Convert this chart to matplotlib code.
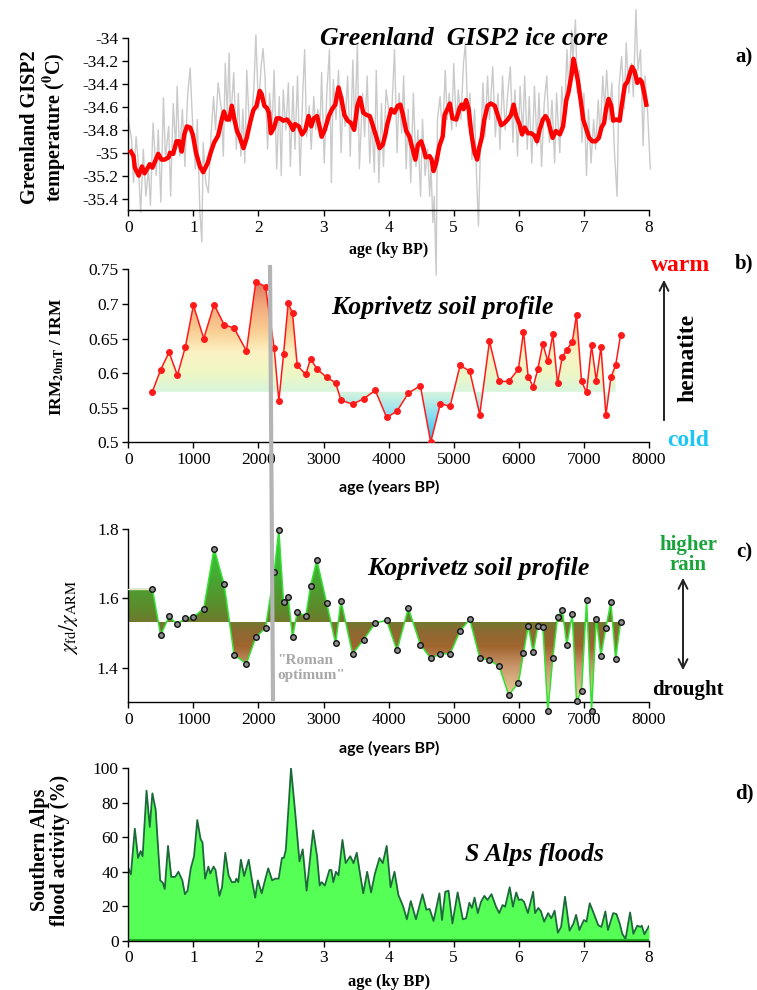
import numpy as np
import matplotlib
matplotlib.use('Agg')
import matplotlib.pyplot as plt
from matplotlib.colors import LinearSegmentedColormap, Normalize
from matplotlib.path import Path
from matplotlib.patches import PathPatch, FancyArrowPatch
from matplotlib.lines import Line2D

plt.rcParams['font.family'] = ['Liberation Serif', 'DejaVu Serif']
plt.rcParams['mathtext.fontset'] = 'stix'
plt.rcParams['axes.unicode_minus'] = False

W, H = 757, 990

# ---------------- a) GISP2 ----------------
gisp_raw_age = [0.00, 0.05, 0.08, 0.12, 0.15, 0.19, 0.23, 0.27, 0.31, 0.34, 0.38, 0.43, 0.46, 0.50,
                0.54, 0.57, 0.62, 0.65, 0.69, 0.73, 0.75, 0.79, 0.83, 0.87, 0.91, 0.95, 0.99, 1.03,
                1.06, 1.10, 1.13, 1.15, 1.19, 1.23, 1.27, 1.31, 1.34, 1.38, 1.43, 1.46, 1.49, 1.52,
                1.55, 1.57, 1.62, 1.66, 1.69, 1.73, 1.76, 1.79, 1.82, 1.86, 1.90, 1.93, 1.96, 2.00,
                2.04, 2.07, 2.10, 2.14, 2.17, 2.21, 2.24, 2.28, 2.32, 2.35, 2.38, 2.42, 2.46, 2.49,
                2.53, 2.56, 2.60, 2.64, 2.68, 2.71, 2.74, 2.78, 2.81, 2.85, 2.88, 2.91, 2.95, 2.97,
                3.01, 3.05, 3.09, 3.12, 3.15, 3.19, 3.23, 3.27, 3.30, 3.33, 3.37, 3.41, 3.45, 3.48,
                3.52, 3.55, 3.60, 3.63, 3.67, 3.71, 3.74, 3.78, 3.81, 3.85, 3.89, 3.92, 3.96, 4.00,
                4.05, 4.09, 4.13, 4.16, 4.20, 4.23, 4.27, 4.30, 4.34, 4.38, 4.42, 4.45, 4.49, 4.52,
                4.56, 4.60, 4.63, 4.65, 4.68, 4.70, 4.73, 4.75, 4.79, 4.83, 4.87, 4.90, 4.93, 4.97,
                5.00, 5.04, 5.07, 5.11, 5.15, 5.18, 5.22, 5.25, 5.28, 5.32, 5.35, 5.38, 5.41, 5.45,
                5.48, 5.52, 5.55, 5.60, 5.64, 5.68, 5.71, 5.75, 5.79, 5.83, 5.87, 5.91, 5.94, 5.98,
                6.02, 6.06, 6.09, 6.13, 6.16, 6.20, 6.24, 6.28, 6.31, 6.35, 6.39, 6.43, 6.47, 6.51,
                6.55, 6.58, 6.63, 6.66, 6.70, 6.74, 6.77, 6.81, 6.83, 6.87, 6.90, 6.93, 6.97, 7.00,
                7.04, 7.07, 7.11, 7.15, 7.18, 7.22, 7.25, 7.29, 7.32, 7.35, 7.39, 7.43, 7.47, 7.51,
                7.54, 7.58, 7.62, 7.65, 7.69, 7.73, 7.76, 7.80, 7.83, 7.87, 7.91, 7.94, 7.98, 8.02]
gisp_raw_temp = [-34.71, -34.88, -35.26, -34.86, -35.06, -35.52, -34.97, -35.38, -35.14, -35.46, -34.74, -35.20, -34.80, -35.43,
                 -34.52, -35.06, -34.77, -35.38, -34.57, -34.97, -34.42, -35.03, -34.62, -35.12, -34.51, -34.26, -34.77, -35.14,
                 -34.71, -35.52, -35.78, -34.91, -35.26, -35.35, -34.86, -34.51, -34.80, -34.39, -34.62, -35.03, -34.22, -34.65,
                 -34.13, -34.74, -34.30, -34.97, -34.48, -35.03, -34.62, -35.09, -34.28, -34.77, -34.68, -34.42, -33.97, -34.62,
                 -34.25, -34.09, -34.33, -34.97, -34.48, -34.77, -34.28, -35.14, -34.51, -35.20, -34.45, -34.80, -34.39, -35.12,
                 -34.42, -34.97, -34.33, -35.20, -34.48, -34.10, -34.86, -34.59, -34.97, -34.51, -34.80, -34.62, -34.71, -34.30,
                 -35.09, -34.48, -34.10, -35.26, -34.36, -34.71, -34.28, -35.00, -34.51, -34.77, -34.33, -35.03, -34.19, -34.80,
                 -34.04, -35.14, -34.48, -34.86, -34.33, -35.09, -34.68, -35.17, -34.28, -35.26, -34.57, -35.12, -34.45, -34.62,
                 -34.62, -34.10, -35.00, -34.48, -34.83, -34.33, -35.14, -34.62, -35.26, -34.48, -35.12, -34.80, -35.38, -34.71,
                 -35.20, -34.97, -35.38, -35.12, -35.61, -35.38, -36.07, -34.71, -34.51, -34.86, -34.28, -34.71, -34.48, -34.80,
                 -34.22, -34.77, -34.45, -34.71, -34.22, -34.04, -34.77, -34.48, -35.06, -34.62, -35.20, -35.64, -34.97, -34.39,
                 -34.86, -34.33, -34.71, -34.25, -34.86, -34.48, -34.97, -34.33, -34.80, -34.48, -34.25, -34.91, -34.45, -35.03,
                 -34.42, -34.86, -34.33, -34.97, -34.51, -35.09, -34.42, -34.94, -34.48, -35.12, -34.57, -34.33, -34.91, -34.54,
                 -35.09, -34.48, -35.00, -34.42, -34.71, -34.10, -34.48, -33.93, -34.19, -33.84, -34.48, -34.28, -34.91, -34.48,
                 -35.20, -34.62, -35.09, -34.71, -34.97, -34.54, -34.86, -34.33, -34.62, -34.28, -34.71, -34.39, -35.00, -35.38,
                 -34.42, -34.16, -34.62, -34.04, -34.48, -34.22, -34.51, -33.75, -34.28, -34.10, -34.94, -34.33, -34.65, -35.14]

gisp_smooth_age = [0.04, 0.08, 0.10, 0.16, 0.21, 0.25, 0.28, 0.33, 0.37, 0.40, 0.46, 0.51, 0.56, 0.62,
                   0.64, 0.69, 0.74, 0.78, 0.82, 0.86, 0.90, 0.95, 0.99, 1.04, 1.10, 1.15, 1.22, 1.27,
                   1.32, 1.38, 1.44, 1.47, 1.51, 1.55, 1.59, 1.63, 1.67, 1.71, 1.77, 1.82, 1.87, 1.92,
                   1.97, 2.02, 2.05, 2.09, 2.13, 2.16, 2.19, 2.24, 2.28, 2.33, 2.38, 2.44, 2.49, 2.53,
                   2.56, 2.62, 2.67, 2.72, 2.77, 2.81, 2.85, 2.90, 2.93, 2.97, 3.02, 3.08, 3.13, 3.18,
                   3.23, 3.27, 3.32, 3.37, 3.42, 3.47, 3.52, 3.56, 3.61, 3.66, 3.71, 3.75, 3.81, 3.86,
                   3.91, 3.95, 3.98, 4.04, 4.09, 4.14, 4.18, 4.22, 4.27, 4.32, 4.37, 4.41, 4.45, 4.50,
                   4.54, 4.57, 4.63, 4.66, 4.69, 4.73, 4.78, 4.83, 4.86, 4.91, 4.94, 4.98, 5.04, 5.09,
                   5.12, 5.15, 5.19, 5.23, 5.27, 5.32, 5.36, 5.39, 5.43, 5.47, 5.52, 5.57, 5.63, 5.68,
                   5.73, 5.78, 5.83, 5.88, 5.92, 5.96, 6.01, 6.05, 6.09, 6.14, 6.19, 6.24, 6.28, 6.32,
                   6.37, 6.41, 6.45, 6.49, 6.52, 6.57, 6.63, 6.68, 6.73, 6.76, 6.81, 6.84, 6.87, 6.91,
                   6.95, 6.99, 7.04, 7.08, 7.13, 7.18, 7.23, 7.27, 7.31, 7.34, 7.38, 7.42, 7.45, 7.50,
                   7.55, 7.58, 7.63, 7.67, 7.71, 7.74, 7.78, 7.82, 7.86, 7.89, 7.92, 7.96]
gisp_smooth_temp = [-34.99, -35.03, -35.13, -35.20, -35.12, -35.18, -35.15, -35.10, -35.13, -35.09, -35.01, -35.06, -35.06, -35.04,
                    -35.00, -35.01, -34.90, -34.90, -34.99, -34.84, -34.77, -34.78, -34.84, -35.00, -35.12, -35.17, -35.09, -34.99,
                    -34.91, -34.85, -34.70, -34.64, -34.71, -34.71, -34.59, -34.71, -34.81, -34.86, -34.96, -34.87, -34.74, -34.63,
                    -34.59, -34.46, -34.49, -34.59, -34.61, -34.65, -34.83, -34.78, -34.70, -34.70, -34.72, -34.71, -34.75, -34.80,
                    -34.75, -34.77, -34.84, -34.80, -34.68, -34.77, -34.70, -34.68, -34.75, -34.86, -34.80, -34.68, -34.62, -34.58,
                    -34.43, -34.52, -34.67, -34.72, -34.74, -34.80, -34.59, -34.52, -34.65, -34.67, -34.68, -34.75, -34.86, -34.96,
                    -34.93, -34.84, -34.75, -34.62, -34.65, -34.59, -34.58, -34.67, -34.81, -34.86, -34.97, -35.06, -34.93, -34.90,
                    -34.97, -35.04, -35.03, -35.06, -35.16, -35.09, -34.94, -34.86, -34.67, -34.61, -34.57, -34.70, -34.71, -34.61,
                    -34.58, -34.62, -34.54, -34.62, -34.83, -35.00, -35.06, -34.96, -34.87, -34.71, -34.59, -34.57, -34.59, -34.68,
                    -34.76, -34.74, -34.71, -34.67, -34.58, -34.68, -34.75, -34.84, -34.78, -34.83, -34.83, -34.85, -34.90, -34.80,
                    -34.71, -34.68, -34.72, -34.81, -34.87, -34.81, -34.84, -34.77, -34.54, -34.48, -34.32, -34.18, -34.26, -34.38,
                    -34.54, -34.71, -34.80, -34.87, -34.90, -34.90, -34.87, -34.78, -34.74, -34.62, -34.53, -34.59, -34.72, -34.71,
                    -34.72, -34.59, -34.41, -34.38, -34.30, -34.25, -34.29, -34.39, -34.36, -34.38, -34.46, -34.58]
gisp_yticks = [-34, -34.2, -34.4, -34.6, -34.8, -35, -35.2, -35.4]

# ---------------- b) c) Koprivetz ----------------
kop_age = [369, 497, 626, 754, 877, 1000, 1159, 1318, 1472, 1626, 1815, 1959, 2108, 2241, 2313,
           2385, 2456, 2523, 2595, 2728, 2800, 2897, 3046, 3185, 3267, 3446, 3615, 3795, 3969,
           4128, 4303, 4487, 4646, 4795, 4944, 5097, 5246, 5400, 5549, 5697, 5846, 5995, 6072,
           6144, 6221, 6292, 6369, 6446, 6523, 6595, 6667, 6738, 6821, 6887, 6964, 7041, 7118,
           7190, 7262, 7338, 7415, 7487, 7564]
kop_irm = [0.573, 0.605, 0.630, 0.597, 0.638, 0.698, 0.650, 0.699, 0.670, 0.665, 0.632, 0.732, 0.725, 0.636, 0.560,
           0.627, 0.701, 0.687, 0.611, 0.598, 0.621, 0.606, 0.594, 0.586, 0.561, 0.555, 0.563, 0.575, 0.536,
           0.545, 0.571, 0.582, 0.500, 0.556, 0.552, 0.611, 0.603, 0.540, 0.646, 0.588, 0.588, 0.606, 0.660,
           0.595, 0.580, 0.606, 0.642, 0.617, 0.656, 0.585, 0.623, 0.634, 0.645, 0.684, 0.588, 0.572, 0.640,
           0.589, 0.638, 0.539, 0.594, 0.611, 0.655]
kop_chi = [1.628, 1.494, 1.548, 1.525, 1.544, 1.546, 1.571, 1.744, 1.641, 1.437, 1.412, 1.488, 1.515, 1.676, 1.799,
           1.589, 1.605, 1.488, 1.560, 1.550, 1.636, 1.711, 1.588, 1.470, 1.594, 1.440, 1.481, 1.529, 1.537,
           1.450, 1.572, 1.467, 1.427, 1.440, 1.440, 1.506, 1.540, 1.428, 1.422, 1.404, 1.321, 1.357, 1.442,
           1.521, 1.444, 1.520, 1.518, 1.276, 1.429, 1.546, 1.567, 1.465, 1.554, 1.303, 1.333, 1.595, 1.276,
           1.542, 1.435, 1.516, 1.589, 1.424, 1.532]
irm_base = 0.573
chi_base = 1.532
irm_yticks = [0.5, 0.55, 0.6, 0.65, 0.7, 0.75]
irm_ylabels = ['0.5', '0.55', '0.6', '0.65', '0.7', '0.75']
chi_yticks = [1.4, 1.6, 1.8]
year_ticks = [0, 1000, 2000, 3000, 4000, 5000, 6000, 7000, 8000]

# ---------------- d) S Alps floods ----------------
flood_age = [0.00, 0.04, 0.10, 0.15, 0.19, 0.22, 0.28, 0.33, 0.37, 0.42, 0.49, 0.53, 0.56, 0.61,
             0.66, 0.72, 0.77, 0.83, 0.87, 0.91, 0.96, 1.01, 1.06, 1.11, 1.14, 1.18, 1.23, 1.26,
             1.31, 1.34, 1.40, 1.44, 1.49, 1.54, 1.59, 1.64, 1.66, 1.69, 1.73, 1.78, 1.85, 1.90,
             1.95, 1.99, 2.05, 2.10, 2.15, 2.21, 2.26, 2.31, 2.36, 2.39, 2.42, 2.50, 2.56, 2.63,
             2.68, 2.74, 2.84, 2.90, 2.94, 2.97, 3.02, 3.09, 3.12, 3.15, 3.19, 3.23, 3.29, 3.34,
             3.41, 3.46, 3.51, 3.56, 3.61, 3.67, 3.73, 3.79, 3.86, 3.91, 3.97, 4.03, 4.09, 4.15,
             4.20, 4.23, 4.28, 4.34, 4.42, 4.52, 4.58, 4.63, 4.69, 4.78, 4.82, 4.87, 4.92, 4.98,
             5.06, 5.14, 5.19, 5.24, 5.28, 5.32, 5.37, 5.42, 5.47, 5.52, 5.58, 5.65, 5.70, 5.75,
             5.79, 5.86, 5.91, 5.96, 6.00, 6.04, 6.08, 6.14, 6.22, 6.25, 6.30, 6.34, 6.39, 6.45,
             6.50, 6.55, 6.60, 6.65, 6.71, 6.78, 6.84, 6.88, 6.93, 7.00, 7.04, 7.09, 7.15, 7.22,
             7.27, 7.33, 7.37, 7.45, 7.50, 7.55, 7.59, 7.64, 7.71, 7.76, 7.82, 7.87, 7.89, 7.93, 8.00]
flood_pct = [42, 38.5, 65, 48, 52, 49, 87, 66, 85.5, 76, 35, 33.6, 30, 55,
             37, 37, 40, 35, 27, 29, 42, 49, 70, 59, 57, 36, 43, 39,
             43, 41, 26, 31, 51, 38, 34, 34, 36, 34, 47, 37.5, 47, 35,
             25, 35, 27.5, 35, 42, 35, 36, 36, 48, 48, 52.6, 100, 76, 46,
             53, 29, 64, 49, 32, 34, 32, 41, 41, 34, 40, 38, 58.5, 45,
             49, 45, 51, 39, 27.5, 40, 28, 39, 48, 45, 55, 31, 40, 26.5,
             22, 19, 12.4, 23, 12.4, 27, 18, 18.4, 11.4, 27.5, 12, 28.4, 29, 10,
             28, 12.4, 13, 22, 19, 25, 16, 22.6, 26, 23.6, 27, 19.7, 16, 20.7,
             19.7, 31, 19.7, 28, 23.6, 24, 22.6, 16, 28.4, 16, 19, 17, 11, 16,
             13, 17.4, 4.6, 8, 25.5, 5.8, 10, 15, 6.2, 12, 11, 21.7, 16, 9,
             8, 17, 6.2, 16, 15.5, 10, 4, 1, 16.4, 4, 8.7, 8, 8.7, 3.7, 8.5]
flood_yticks = [0, 20, 40, 60, 80, 100]
ky_ticks = [0, 1, 2, 3, 4, 5, 6, 7, 8]


def px(x, y):
    return x / W, 1 - y / H


def style_axes(ax):
    for s in ['top', 'right']:
        ax.spines[s].set_visible(False)
    for s in ['left', 'bottom']:
        ax.spines[s].set_linewidth(1.0)
    ax.tick_params(direction='out', length=4, width=1, labelsize=12.5, pad=3)
    ax.patch.set_alpha(0)


def gradient_fill(ax, x, y, base, cmap, vmin, vmax, x0, x1):
    poly = ax.fill_between(x, y, base, color='none', lw=0)
    path = Path.make_compound_path(*poly.get_paths())
    patch = PathPatch(path, transform=ax.transData, facecolor='none', edgecolor='none')
    ax.add_patch(patch)
    grad = np.linspace(vmin, vmax, 256).reshape(-1, 1)
    im = ax.imshow(grad, extent=[x0, x1, vmin, vmax], origin='lower', cmap=cmap,
                   norm=Normalize(vmin, vmax), aspect='auto', zorder=1)
    im.set_clip_path(patch)


fig = plt.figure(figsize=(W / 100, H / 100), dpi=100)
fig.patch.set_facecolor('white')

left, width = 0.1695, 0.6878
title_kw = dict(ha='center', va='center', fontsize=18.6, fontweight='bold', style='italic')

# ---- a ----
ax_a = fig.add_axes([left, 0.7879, width, 0.2024])
style_axes(ax_a)
ax_a.plot(gisp_raw_age, gisp_raw_temp, color='#cacaca', lw=1.0, zorder=1, clip_on=False)
ax_a.plot(gisp_smooth_age, gisp_smooth_temp, color='#ff0000', lw=3.2, zorder=3,
          solid_joinstyle='round')
ax_a.set_xlim(0, 8)
ax_a.set_ylim(-35.5, -33.75)
ax_a.spines['left'].set_bounds(-35.5, -34)
ax_a.set_yticks(gisp_yticks, [str(v) for v in gisp_yticks])
ax_a.set_xticks(ky_ticks, [str(v) for v in ky_ticks])
ax_a.text(0.645, 0.855, 'Greenland  GISP2 ice core', transform=ax_a.transAxes, **title_kw)

# ---- b ----
irm_cmap = LinearSegmentedColormap.from_list('irm', [
    (0.0, '#22bff0'), (0.17, '#8fdff2'), (0.31, '#d8f5dc'), (0.42, '#eef7c4'),
    (0.55, '#fcf2c4'), (0.68, '#f9cf94'), (0.85, '#f2a67a'), (1.0, '#d8705e')])
ax_b = fig.add_axes([left, 0.5532, width, 0.1748])
style_axes(ax_b)
gradient_fill(ax_b, kop_age[:-1], kop_irm[:-1], irm_base, irm_cmap, 0.5, 0.735, 0, 8000)
ax_b.plot(kop_age, kop_irm, color='#ff1a1a', lw=1.1, marker='o', ms=4, zorder=4)
ax_b.set_xlim(0, 8000)
ax_b.set_ylim(0.5, 0.75)
ax_b.set_yticks(irm_yticks, irm_ylabels)
ax_b.set_xticks(year_ticks, [str(v) for v in year_ticks])
ax_b.text(0.603, 0.78, 'Koprivetz soil profile', transform=ax_b.transAxes, **title_kw)

# ---- c ----
chi_cmap = LinearSegmentedColormap.from_list('chi', [
    (0.0, '#f9f1cc'), (0.11, '#e6c894'), (0.25, '#c8966a'), (0.36, '#a0642e'),
    (0.44, '#8c6a32'), (0.495, '#6f7a2e'), (0.56, '#5e8a2c'), (0.70, '#4aa232'),
    (0.85, '#3bbf33'), (1.0, '#2fd82f')])
ax_c = fig.add_axes([left, 0.2906, width, 0.1748])
style_axes(ax_c)
chi_x = np.r_[0, kop_age]
chi_y = np.r_[kop_chi[0], kop_chi]
gradient_fill(ax_c, chi_x, chi_y, chi_base, chi_cmap, 1.27, 1.80, 0, 8000)
ax_c.plot([0, kop_age[0]], [kop_chi[0], kop_chi[0]], color='#e8e8c8', lw=1.0, zorder=3)
ax_c.plot(kop_age, kop_chi, color='#33e033', lw=1.1, zorder=3, clip_on=False)
ax_c.plot(kop_age, kop_chi, ls='none', marker='o', ms=4, mfc='#8c8c8c', mec='#111111',
          mew=1.0, zorder=5, clip_on=False)
ax_c.set_xlim(0, 8000)
ax_c.set_ylim(1.30, 1.80)
ax_c.set_yticks(chi_yticks, [str(v) for v in chi_yticks])
ax_c.set_xticks(year_ticks, [str(v) for v in year_ticks])
ax_c.text(0.673, 0.775, 'Koprivetz soil profile', transform=ax_c.transAxes, **title_kw)

# ---- d ----
ax_d = fig.add_axes([left, 0.0498, width, 0.1741])
style_axes(ax_d)
ax_d.fill_between(flood_age, flood_pct, 0, color='#55ff55', lw=0, zorder=1)
ax_d.plot(flood_age, flood_pct, color='#1c6a3a', lw=1.3, zorder=2)
ax_d.plot([0, 8], [0.6, 0.6], color='#1fae1f', lw=2.2, zorder=2)
ax_d.set_xlim(0, 8)
ax_d.set_ylim(0, 100)
ax_d.set_yticks(flood_yticks, [str(v) for v in flood_yticks])
ax_d.set_xticks(ky_ticks, [str(v) for v in ky_ticks])
ax_d.text(0.781, 0.5, 'S Alps floods', transform=ax_d.transAxes, **title_kw)

# ---- axis labels ----
ylab = dict(rotation=90, ha='center', va='center', fontweight='bold')
fig.text(*px(44, 127), 'Greenland GISP2\n' + r'temperature ($\mathbf{^0}$C)', fontsize=14.5,
         linespacing=1.05, **ylab)
fig.text(*px(57, 357), r'IRM$_{\mathbf{20mT}}$ / IRM', fontsize=12.5, **ylab)
fig.text(*px(68, 617), r'$\chi_{\rm fd}/\chi_{\rm ARM}$', fontsize=15, rotation=90,
         ha='center', va='center')
fig.text(*px(50, 850), 'Southern Alps\nflood activity (%)', fontsize=14.5, linespacing=1.05, **ylab)

fig.text(*px(389, 250), 'age (ky BP)', ha='center', va='center', fontsize=11.5, fontweight='bold')
fig.text(*px(389, 487), 'age (years BP)', ha='center', va='center', fontsize=11.5,
         fontweight='bold', family='Lato')
fig.text(*px(389, 748), 'age (years BP)', ha='center', va='center', fontsize=11.5,
         fontweight='bold', family='Lato')
fig.text(*px(389, 982), 'age (ky BP)', ha='center', va='center', fontsize=12, fontweight='bold')

# ---- panel letters ----
for lab, yy in [('a)', 57), ('b)', 263), ('c)', 552), ('d)', 793)]:
    fig.text(*px(744, yy), lab, ha='center', va='center', fontsize=15, fontweight='bold')

# ---- right side annotations ----
fig.text(*px(681, 265), 'warm', color='#ff0000', ha='center', va='center', fontsize=17, fontweight='bold')
fig.text(*px(688, 440), 'cold', color='#1ec6f5', ha='center', va='center', fontsize=17, fontweight='bold')
fig.text(*px(688, 358), 'hematite', rotation=90, ha='center', va='center', fontsize=17, fontweight='bold')
fig.text(*px(688, 555), 'higher\nrain', color='#1aa33a', ha='center', va='center', fontsize=15,
         fontweight='bold', linespacing=0.95)
fig.text(*px(688, 690), 'drought', ha='center', va='center', fontsize=15, fontweight='bold')

fig.add_artist(FancyArrowPatch(px(664, 423), px(664, 277), transform=fig.transFigure,
                               arrowstyle='->', mutation_scale=16, lw=1.4, color='#222222'))
fig.add_artist(FancyArrowPatch(px(683, 673), px(683, 575), transform=fig.transFigure,
                               arrowstyle='<->', mutation_scale=16, lw=1.4, color='#222222'))

# ---- Roman optimum marker ----
fig.add_artist(Line2D([270 / W, 273 / W], [1 - 267 / H, 1 - 699 / H], transform=fig.transFigure,
                      color='#b4b4b4', lw=3, zorder=10))
fig.text(*px(277, 668), '"Roman\noptimum"', color='#a8a8a8', ha='left', va='center',
         fontsize=11, fontweight='bold', linespacing=1.1)

fig.savefig('out.png', dpi=100)
